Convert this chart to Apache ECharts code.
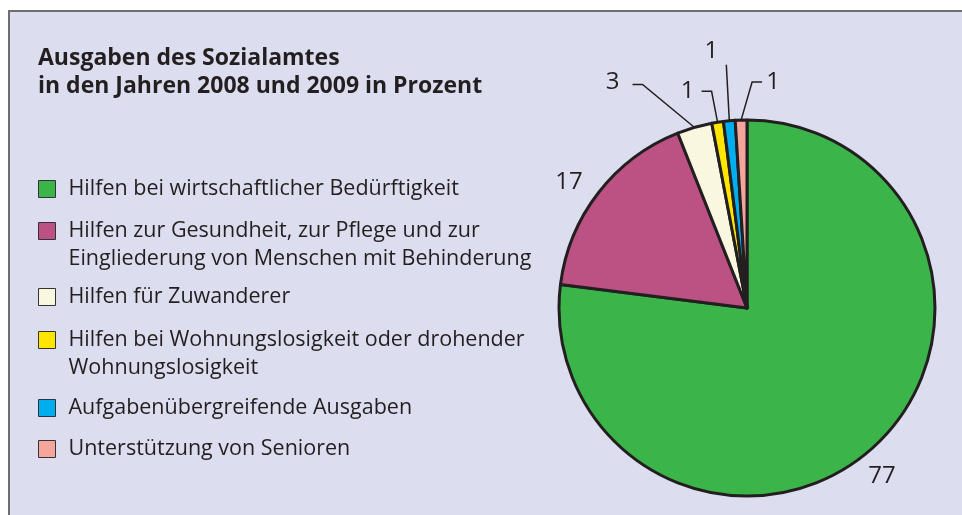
<!DOCTYPE html>
<html>
<head>
<meta charset="utf-8">
<script src="https://cdn.jsdelivr.net/npm/echarts@6/dist/echarts.min.js"></script>
<style>
  html, body { margin: 0; padding: 0; background: #fff; }
  #frame {
    position: absolute; left: 8px; top: 10px; width: 960px; height: 510px;
    background: #dcddee; border-left: 2px solid #6d6e71; border-top: 2px solid #6d6e71;
  }
  #main { position: absolute; left: 0; top: 0; width: 962px; height: 515px; }
</style>
</head>
<body>
<div id="frame"></div>
<div id="main"></div>
<script>
// Anteile in Prozent
var categories = [
  "Hilfen bei wirtschaftlicher Bedürftigkeit",
  "Hilfen zur Gesundheit, zur Pflege und zur\nEingliederung von Menschen mit Behinderung",
  "Hilfen für Zuwanderer",
  "Hilfen bei Wohnungslosigkeit oder drohender\nWohnungslosigkeit",
  "Aufgabenübergreifende Ausgaben",
  "Unterstützung von Senioren"
];
var values = [77, 17, 3, 1, 1, 1];
var colors = ["#3bb54a", "#bc5184", "#f9f7df", "#ffe600", "#00aeef", "#f5a59c"];

var FONT = "Open Sans";
var INK = "#231f20";

// Legend rows: centre of first text line
var legendRows = [189, 231, 297, 340, 408, 449];

// label placement relative to the slice edge point (small slices) or fixed (big ones)
var labelSpots = [
  { x: 882, y: 476 },
  { x: 569, y: 182 },
  { elbow: [-52, -43], arm: -10, off: [-20, -2] },
  { elbow: [-6, -31], arm: -10, off: [-14, 0] },
  { elbow: [-3, -56], arm: 0, off: [-15, -14] },
  { elbow: [11, -38], arm: 10, off: [11, 0] }
];

var myChart = echarts.init(document.getElementById("main"));

var legends = categories.map(function (name, i) {
  var twoLines = name.indexOf("\n") >= 0;
  return {
    left: 38,
    top: twoLines ? legendRows[i] - 42 : legendRows[i] - 14,
    orient: "vertical",
    padding: 0,
    selectedMode: false,
    itemWidth: 17,
    itemHeight: 17,
    icon: "rect",
    itemStyle: { borderColor: "#333", borderWidth: 1 },
    // empty first line pushes the text down so the box sits on the first line
    formatter: function (n) {
      return twoLines ? "\n" + n : n;
    },
    textStyle: {
      fontFamily: FONT,
      fontSize: 21.5,
      lineHeight: 28,
      color: INK,
      padding: [0, 0, 0, 8]
    },
    data: [name]
  };
});

var option = {
  color: colors,
  animation: false,
  title: {
    text: "Ausgaben des Sozialamtes\nin den Jahren 2008 und 2009 in Prozent",
    left: 38,
    top: 44,
    padding: 0,
    textStyle: {
      fontFamily: FONT,
      fontSize: 23,
      fontWeight: "bold",
      lineHeight: 28,
      color: INK
    }
  },
  legend: legends,
  series: [
    {
      type: "pie",
      center: [747, 308],
      radius: 188,
      startAngle: 90,
      clockwise: true,
      avoidLabelOverlap: false,
      itemStyle: { borderColor: INK, borderWidth: 3 },
      label: {
        show: true,
        position: "outside",
        formatter: "{c}",
        fontFamily: FONT,
        fontSize: 24,
        color: INK
      },
      labelLine: {
        show: true,
        length: 20,
        length2: 10,
        lineStyle: { color: INK, width: 1.5 }
      },
      emphasis: { disabled: true },
      labelLayout: function (params) {
        var s = labelSpots[params.dataIndex];
        if (!s.elbow) {
          return { x: s.x, y: s.y, align: "center", verticalAlign: "middle" };
        }
        var p0 = params.labelLinePoints[0];
        var p1 = [p0[0] + s.elbow[0], p0[1] + s.elbow[1]];
        var p2 = [p1[0] + s.arm, p1[1]];
        return {
          x: p2[0] + s.off[0],
          y: p2[1] + s.off[1],
          align: "center",
          verticalAlign: "middle",
          labelLinePoints: [p0, p1, p2]
        };
      },
      data: categories.map(function (name, i) {
        return {
          name: name,
          value: values[i],
          labelLine: { show: i > 1 }
        };
      })
    }
  ]
};

myChart.setOption(option);
</script>
</body>
</html>
